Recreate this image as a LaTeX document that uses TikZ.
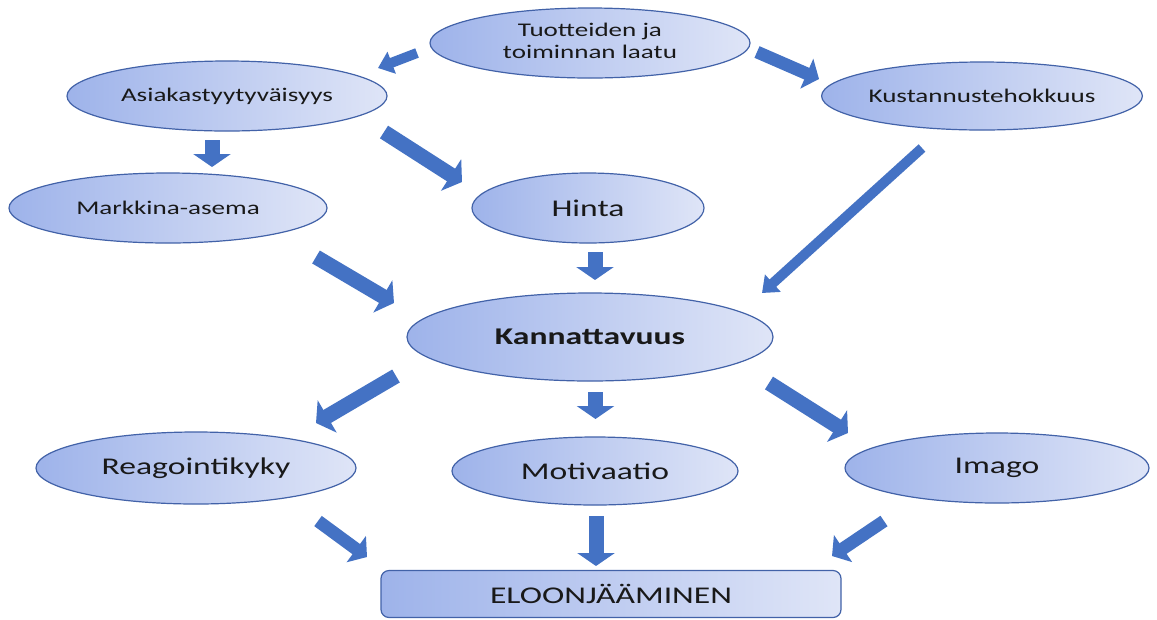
\documentclass[tikz,border=0pt]{standalone}
\usepackage{fontspec}
\usepackage{graphicx}
\setmainfont{Carlito}
\usetikzlibrary{shapes.geometric,arrows.meta}
\definecolor{gl}{RGB}{158,179,234}
\definecolor{gr}{RGB}{223,229,247}
\definecolor{edgeblue}{RGB}{66,98,168}
\definecolor{arrowblue}{RGB}{68,114,196}
\definecolor{txt}{RGB}{25,25,25}
\newcommand{\sx}[1]{\scalebox{1.4}[1]{#1}}
\newcommand{\smallf}{\fontsize{14.5}{16.3}\selectfont}
\newcommand{\bigf}{\fontsize{18}{21}\selectfont}
\begin{document}
\begin{tikzpicture}[x=0.75pt,y=-0.75pt,
  oval/.style={ellipse, draw=edgeblue, line width=0.9pt, left color=gl, right color=gr,
    inner sep=0pt, text=txt},
  boxnode/.style={rectangle, rounded corners=6pt, draw=edgeblue, line width=0.9pt,
    left color=gl, right color=gr, inner sep=0pt, text=txt},
  bigarrow/.style={draw=arrowblue, line width=11.25pt,
    -{Triangle[width=27.75pt,length=9.75pt]}},
  midarrow/.style={draw=arrowblue, line width=9.5pt,
    -{Triangle[width=24pt,length=10pt]}},
  thinarrow/.style={draw=arrowblue, line width=7.5pt,
    -{Triangle[width=17pt,length=11pt]}},
]
\useasboundingbox (0,0) rectangle (1157,619);
\fill[white] (0,0) rectangle (1157,619);

% nodes
\node[oval, minimum width=240pt, minimum height=52.5pt] (t) at (590,43)
  {\smallf\sx{\begin{tabular}{@{}c@{}}Tuotteiden ja\\toiminnan laatu\end{tabular}}};
\node[oval, minimum width=240pt, minimum height=52.5pt] (a) at (227,96)
  {\smallf\sx{Asiakastyytyväisyys}};
\node[oval, minimum width=240pt, minimum height=51pt] (k) at (982,96)
  {\smallf\sx{Kustannustehokkuus}};
\node[oval, minimum width=238.5pt, minimum height=52.5pt] (m) at (168,208)
  {\smallf\sx{Markkina-asema}};
\node[oval, minimum width=174pt, minimum height=52.5pt] (h) at (588,208)
  {\bigf\sx{Hinta}};
\node[oval, minimum width=274.5pt, minimum height=66pt] (kan) at (590,337)
  {\bigf\sx{\textbf{Kannattavuus}}};
\node[oval, minimum width=240pt, minimum height=54pt] (r) at (196,468)
  {\bigf\sx{Reagointikyky}};
\node[oval, minimum width=214.5pt, minimum height=51pt] (mo) at (595,471)
  {\bigf\sx{Motivaatio}};
\node[oval, minimum width=228pt, minimum height=52.5pt] (i) at (997,468)
  {\bigf\sx{Imago}};
\node[boxnode, minimum width=345pt, minimum height=35.25pt] (e) at (611,594)
  {\bigf\sx{ELOONJÄÄMINEN}};

% arrow end points
\coordinate (ta1) at (417,53);  \coordinate (ta2) at (378,68);
\coordinate (tk1) at (757,52);  \coordinate (tk2) at (819,79);
\coordinate (am1) at (212,140); \coordinate (am2) at (212,167);
\coordinate (ah1) at (384,132); \coordinate (ah2) at (462,182);
\coordinate (kk1) at (922,148); \coordinate (kk2) at (762,293);
\coordinate (mk1) at (316,257); \coordinate (mk2) at (394,303);
\coordinate (hk1) at (595,252); \coordinate (hk2) at (595,280);
\coordinate (kr1) at (396,376); \coordinate (kr2) at (316,423);
\coordinate (km1) at (595.5,392); \coordinate (km2) at (595.5,419);
\coordinate (ki1) at (769,383); \coordinate (ki2) at (848,433);
\coordinate (re1) at (318,521); \coordinate (re2) at (367,557);
\coordinate (me1) at (596,516); \coordinate (me2) at (596,566);
\coordinate (ie1) at (884,521); \coordinate (ie2) at (832,556);

% arrows
\draw[thinarrow] (ta1) -- (ta2);
\draw[midarrow] (tk1) -- (tk2);
\draw[bigarrow] (am1) -- (am2);
\draw[bigarrow] (ah1) -- (ah2);
\draw[thinarrow] (kk1) -- (kk2);
\draw[bigarrow] (mk1) -- (mk2);
\draw[bigarrow] (hk1) -- (hk2);
\draw[bigarrow] (kr1) -- (kr2);
\draw[bigarrow] (km1) -- (km2);
\draw[bigarrow] (ki1) -- (ki2);
\draw[midarrow] (re1) -- (re2);
\draw[bigarrow] (me1) -- (me2);
\draw[midarrow] (ie1) -- (ie2);
\end{tikzpicture}
\end{document}
